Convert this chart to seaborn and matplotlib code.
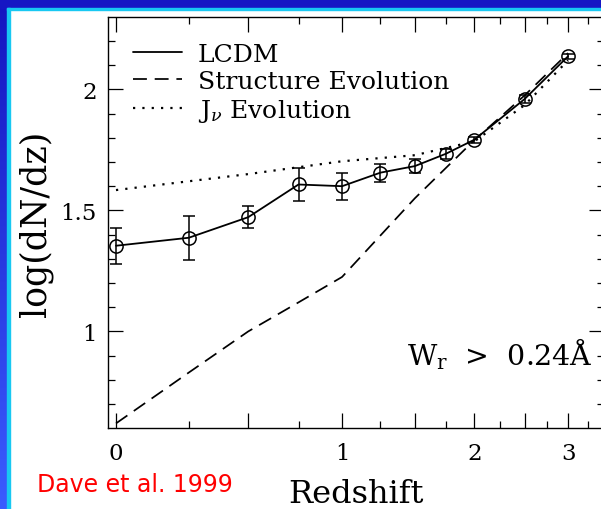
import numpy as np
import pandas as pd
import matplotlib
matplotlib.use("Agg")
import matplotlib.pyplot as plt
import seaborn as sns
from matplotlib.patches import Rectangle
from matplotlib.colors import LinearSegmentedColormap
from matplotlib.ticker import FixedLocator, FuncFormatter, MultipleLocator

# ---------------- data ----------------
z_lcdm = [0.0, 0.25, 0.5, 0.75, 1.0, 1.25, 1.5, 1.75, 2.0, 2.5, 3.0]
logdndz_lcdm = [1.354, 1.387, 1.472, 1.607, 1.600, 1.656, 1.683, 1.734, 1.792, 1.960, 2.137]
err_lcdm = [0.075, 0.09, 0.046, 0.07, 0.055, 0.037, 0.028, 0.02, 0.012, 0.015, 0.01]

z_struct = [0.0, 0.25, 0.5, 0.75, 1.0, 1.5, 2.0, 2.5, 3.0]
logdndz_struct = [0.62, 0.83, 1.0, 1.12, 1.225, 1.55, 1.79, 1.975, 2.15]

z_jnu = [0.0, 0.5, 1.0, 1.5, 2.0, 2.5, 3.0]
logdndz_jnu = [1.584, 1.650, 1.703, 1.728, 1.785, 1.935, 2.12]

series_labels = ["LCDM", "Structure Evolution", r"J$_\nu$ Evolution"]
x_tick_labels = ["0", "1", "2", "3"]

# ---------------- style ----------------
sns.set_theme(style="ticks")
plt.rcParams["font.family"] = ["DejaVu Serif"]
plt.rcParams["mathtext.fontset"] = "dejavuserif"
plt.rcParams["text.color"] = "black"
plt.rcParams["axes.labelcolor"] = "black"

W, H = 601, 510
fig = plt.figure(figsize=(W / 100, H / 100), dpi=100, facecolor="white")

# slide frame decoration
grad_ax = fig.add_axes([0, 0, 7 / W, 1], zorder=-5)
grad = np.linspace(0, 1, 256).reshape(-1, 1)
cmap = LinearSegmentedColormap.from_list("blu", ["#1414c0", "#3a5cff"])
grad_ax.imshow(grad, aspect="auto", cmap=cmap, extent=[0, 1, 0, 1], origin="upper")
grad_ax.axis("off")
fig.patches.append(Rectangle((0, 1 - 9 / H), 1, 9 / H, transform=fig.transFigure,
                             color="#1616c4", zorder=-4))
fig.patches.append(Rectangle((7 / W, 1 - 11.3 / H), 1, 2.3 / H, transform=fig.transFigure,
                             color="#18c8f2", zorder=-3))
fig.patches.append(Rectangle((7 / W, 0), 3 / W, 1 - 9 / H, transform=fig.transFigure,
                             color="#18c8f2", zorder=-3))

# ---------------- axes ----------------
ax = fig.add_axes([108 / W, 81 / H, 496 / W, 411 / H])
ax.set_facecolor("white")
ax.set_xscale("function", functions=(lambda z: np.log10(1 + z), lambda u: 10 ** u - 1))

df_lcdm = pd.DataFrame({"z": z_lcdm, "v": logdndz_lcdm})
df_struct = pd.DataFrame({"z": z_struct, "v": logdndz_struct})
df_jnu = pd.DataFrame({"z": z_jnu, "v": logdndz_jnu})

sns.lineplot(data=df_lcdm, x="z", y="v", ax=ax, color="black", lw=1.3,
             label=series_labels[0], sort=False)
sns.lineplot(data=df_struct, x="z", y="v", ax=ax, color="black", lw=1.25,
             linestyle=(0, (8.0, 4.5)), label=series_labels[1], sort=False)
sns.lineplot(data=df_jnu, x="z", y="v", ax=ax, color="black", lw=1.6,
             linestyle=(0, (1.0, 3.2)), label=series_labels[2], sort=False)

ax.errorbar(z_lcdm, logdndz_lcdm, yerr=err_lcdm, fmt="o", mfc="none", mec="black",
            ms=9.5, mew=1.1, ecolor="black", elinewidth=1.1, capsize=4.0,
            capthick=1.1, zorder=3)

ax.set_xlim(-0.0242, 3.465)
ax.set_ylim(0.601, 2.299)

ax.xaxis.set_major_locator(FixedLocator([0, 0.5, 1, 1.5, 2, 2.5, 3]))
ax.xaxis.set_minor_locator(FixedLocator([0.25, 0.75, 1.25, 1.75, 2.25, 2.75, 3.25]))
lab_map = {0: x_tick_labels[0], 1: x_tick_labels[1], 2: x_tick_labels[2], 3: x_tick_labels[3]}
ax.xaxis.set_major_formatter(FuncFormatter(
    lambda v, p: lab_map.get(int(round(v)), "") if abs(v - round(v)) < 1e-6 else ""))
ax.yaxis.set_major_locator(MultipleLocator(0.5))
ax.yaxis.set_minor_locator(MultipleLocator(0.1))
ax.yaxis.set_major_formatter(FuncFormatter(lambda v, p: f"{v:g}"))

ax.tick_params(which="both", direction="in", top=True, right=True,
               colors="black", width=0.9)
ax.tick_params(which="major", length=11, labelsize=16.5)
ax.tick_params(which="minor", length=5)
ax.tick_params(axis="x", which="major", pad=10)
ax.tick_params(axis="y", which="major", pad=8)
for s in ax.spines.values():
    s.set_color("black")
    s.set_linewidth(1.0)

ax.set_xlabel("Redshift", fontsize=23, va="baseline")
ax.xaxis.set_label_coords(0.5, (429 - 503) / 411)
ax.set_ylabel("log(dN/dz)", fontsize=25, ha="center", va="center")
ax.yaxis.set_label_coords((36 - 108) / 496, 0.5)

ax.legend(loc="upper left", bbox_to_anchor=((133 - 108) / 496, 0.937), frameon=False,
          fontsize=18, handlelength=1.96, handletextpad=0.64, labelspacing=0.16,
          borderpad=0, borderaxespad=0)

fig.text(407 / W, 1 - 366 / H, r"W$_{\rm r}$  >  0.24Å", fontsize=20.5,
         va="baseline", ha="left", color="black")
fig.text(37 / W, 1 - 492 / H, "Dave et al. 1999", fontsize=17, color="#ff0000",
         family=["DejaVu Sans"], va="baseline", ha="left")

fig.savefig("out.png", dpi=100, facecolor="white")
